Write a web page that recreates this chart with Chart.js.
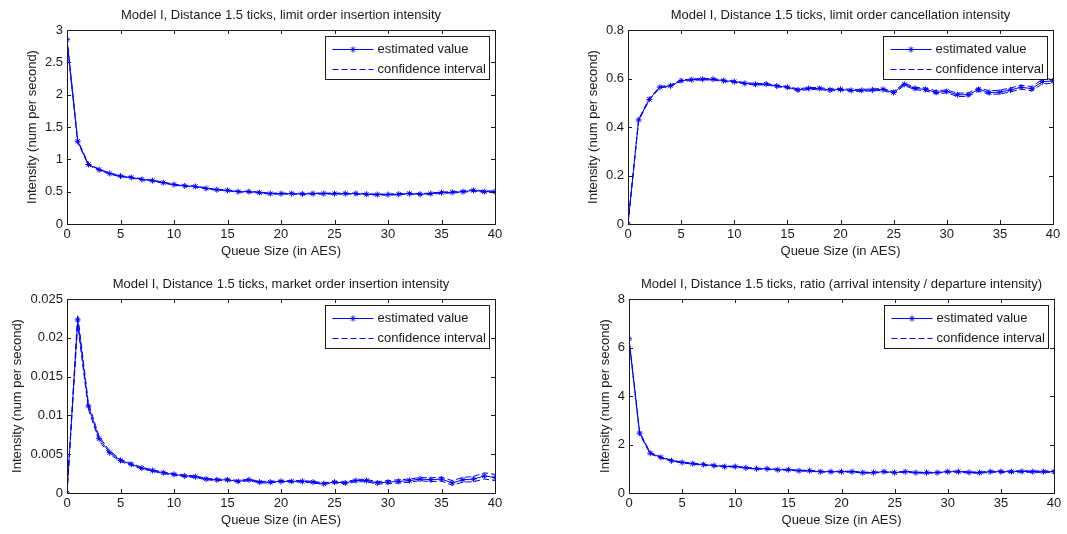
<!DOCTYPE html>
<html>
<head>
<meta charset="utf-8">
<script src="https://cdn.jsdelivr.net/npm/chart.js@4.4.1/dist/chart.umd.min.js"></script>
<style>
  html, body { margin:0; padding:0; background:#fff; }
  #wrap { position:relative; width:1067px; height:534px; overflow:hidden; }
  canvas { position:absolute; }
</style>
</head>
<body>
<div id="wrap">
  <canvas id="c0"></canvas>
  <canvas id="c1"></canvas>
  <canvas id="c2"></canvas>
  <canvas id="c3"></canvas>
</div>
<script>
// Data
const queueSize = [0,1,2,3,4,5,6,7,8,9,10,11,12,13,14,15,16,17,18,19,20,21,22,23,24,25,26,27,28,29,30,31,32,33,34,35,36,37,38,39,40];
const xTicks = [0,5,10,15,20,25,30,35,40];

const insertEst = [2.85,1.28,0.92,0.84,0.78,0.74,0.72,0.69,0.67,0.64,0.61,0.59,0.58,0.55,0.53,0.52,0.50,0.50,0.485,0.47,0.47,0.47,0.465,0.47,0.47,0.47,0.47,0.47,0.46,0.455,0.455,0.46,0.47,0.46,0.47,0.485,0.49,0.50,0.52,0.50,0.50];
const insertCi  = [0.03,0.02,0.012,0.01,0.01,0.008,0.008,0.008,0.008,0.008,0.008,0.008,0.008,0.008,0.008,0.008,0.008,0.008,0.008,0.008,0.008,0.008,0.008,0.008,0.008,0.008,0.008,0.008,0.008,0.008,0.008,0.009,0.009,0.009,0.01,0.01,0.01,0.011,0.011,0.012,0.012];
const insertTicks = [0,0.5,1,1.5,2,2.5,3];

const cancelEst = [0,0.429,0.514,0.564,0.570,0.591,0.595,0.597,0.597,0.591,0.587,0.580,0.576,0.577,0.569,0.564,0.553,0.559,0.559,0.553,0.555,0.551,0.551,0.553,0.555,0.542,0.576,0.559,0.555,0.543,0.547,0.533,0.533,0.555,0.542,0.544,0.553,0.564,0.558,0.587,0.590];
const cancelCi  = [0,0.004,0.003,0.003,0.003,0.003,0.003,0.003,0.003,0.003,0.003,0.003,0.003,0.003,0.003,0.003,0.004,0.004,0.004,0.004,0.004,0.004,0.004,0.004,0.004,0.005,0.005,0.005,0.006,0.006,0.006,0.007,0.007,0.007,0.007,0.008,0.008,0.008,0.009,0.009,0.01];
const cancelTicks = [0,0.2,0.4,0.6,0.8];

const marketEst = [0,0.0223,0.0112,0.0070,0.0052,0.0042,0.0037,0.0032,0.0029,0.0026,0.0024,0.0022,0.0021,0.0018,0.0017,0.0017,0.0015,0.0017,0.0014,0.0014,0.0015,0.0015,0.0015,0.0014,0.0012,0.0014,0.0013,0.0016,0.0016,0.0013,0.0014,0.0015,0.0016,0.0018,0.0017,0.0018,0.0013,0.0017,0.0018,0.0022,0.0020];
const marketCi  = [0,0.0007,0.0004,0.0003,0.0002,0.00015,0.00012,0.0001,0.0001,0.0001,0.0001,0.0001,0.0001,0.0001,0.0001,0.0001,0.0001,0.0001,0.0001,0.0001,0.0001,0.0001,0.0001,0.0001,0.0001,0.0001,0.00012,0.00015,0.00015,0.00015,0.0002,0.0002,0.0002,0.0002,0.00025,0.00025,0.0003,0.0003,0.00035,0.0004,0.0004];
const marketTicks = [0,0.005,0.01,0.015,0.02,0.025];

const ratioEst = [6.36,2.47,1.64,1.47,1.33,1.26,1.21,1.17,1.13,1.09,1.09,1.04,1.00,1.00,0.96,0.96,0.92,0.92,0.88,0.88,0.88,0.88,0.84,0.84,0.88,0.84,0.88,0.84,0.84,0.84,0.88,0.88,0.85,0.84,0.88,0.88,0.88,0.89,0.88,0.88,0.88];
const ratioCi  = [0.06,0.05,0.03,0.025,0.02,0.02,0.02,0.02,0.02,0.02,0.02,0.02,0.02,0.02,0.02,0.02,0.02,0.02,0.02,0.02,0.02,0.02,0.02,0.02,0.02,0.02,0.02,0.02,0.02,0.02,0.025,0.025,0.025,0.025,0.025,0.03,0.03,0.03,0.03,0.03,0.03];
const ratioTicks = [0,2,4,6,8];

const titles = [
  'Model I, Distance 1.5 ticks, limit order insertion intensity',
  'Model I, Distance 1.5 ticks, limit order cancellation intensity',
  'Model I, Distance 1.5 ticks, market order insertion intensity',
  'Model I, Distance 1.5 ticks, ratio (arrival intensity / departure intensity)'
];
const legendLabels = ['estimated value', 'confidence interval'];
const xLabel = 'Queue Size (in AES)';
const yLabel = 'Intensity (num per second)';

// Layout: canvas box + plot area in page pixels
const panels = [
  { id:'c0', x:0,   y:0,   w:533, h:267, area:[67,30,495,224],   yTitleX:32,  est:insertEst, ci:insertCi, yTicks:insertTicks, title:titles[0] },
  { id:'c1', x:533, y:0,   w:534, h:267, area:[628,30,1053,224], yTitleX:593, est:cancelEst, ci:cancelCi, yTicks:cancelTicks, title:titles[1] },
  { id:'c2', x:0,   y:267, w:533, h:267, area:[67,299,495,493],  yTitleX:17,  est:marketEst, ci:marketCi, yTicks:marketTicks, title:titles[2] },
  { id:'c3', x:533, y:267, w:534, h:267, area:[629,299,1054,493],yTitleX:605, est:ratioEst,  ci:ratioCi,  yTicks:ratioTicks,  title:titles[3] }
];

const FONT = "'Liberation Sans', Arial, sans-serif";
const BLUE = '#0000ff';
const INK = '#1a1a1a';
const fmt = v => String(+Number(v).toFixed(4));

// MATLAB-like box with inward ticks
const boxAxes = {
  id: 'boxAxes',
  afterDatasetsDraw(chart) {
    const { ctx, chartArea: a, scales: { x, y } } = chart;
    ctx.save();
    ctx.strokeStyle = INK;
    ctx.lineWidth = 1;
    ctx.strokeRect(Math.round(a.left) + 0.5, Math.round(a.top) + 0.5, Math.round(a.right - a.left), Math.round(a.bottom - a.top));
    ctx.beginPath();
    x.ticks.forEach(t => {
      const px = Math.round(x.getPixelForValue(t.value)) + 0.5;
      ctx.moveTo(px, a.bottom); ctx.lineTo(px, a.bottom - 4);
      ctx.moveTo(px, a.top);    ctx.lineTo(px, a.top + 4);
    });
    y.ticks.forEach(t => {
      const py = Math.round(y.getPixelForValue(t.value)) + 0.5;
      ctx.moveTo(a.left, py);  ctx.lineTo(a.left + 4, py);
      ctx.moveTo(a.right, py); ctx.lineTo(a.right - 4, py);
    });
    ctx.stroke();
    ctx.restore();
  }
};

// title centred over the plot area
const panelTitle = {
  id: 'panelTitle',
  afterDraw(chart, args, opts) {
    const { ctx, chartArea: a } = chart;
    ctx.save();
    ctx.fillStyle = INK;
    ctx.font = '13px ' + FONT;
    ctx.textAlign = 'center';
    ctx.textBaseline = 'middle';
    ctx.fillText(opts.text, (a.left + a.right) / 2, a.top - 14.5);
    ctx.restore();
  }
};

// legend box in the top right corner of the plot
const boxLegend = {
  id: 'boxLegend',
  afterDraw(chart) {
    const { ctx, chartArea: a } = chart;
    const w = 164, h = 43;
    const bx = Math.round(a.right - 6 - w) + 0.5, by = Math.round(a.top + 6) + 0.5;
    ctx.save();
    ctx.fillStyle = '#fff';
    ctx.fillRect(bx, by, w, h);
    ctx.strokeStyle = INK;
    ctx.lineWidth = 1;
    ctx.strokeRect(bx, by, w, h);

    const rows = [by + 13, by + 33];
    ctx.strokeStyle = BLUE;
    ctx.beginPath(); ctx.moveTo(bx + 7, rows[0]); ctx.lineTo(bx + 48, rows[0]); ctx.stroke();
    Chart.helpers.drawPoint(ctx, { pointStyle:'star', radius:3, borderWidth:1 }, bx + 27.5, rows[0]);
    ctx.setLineDash([6, 3]);
    ctx.beginPath(); ctx.moveTo(bx + 7, rows[1]); ctx.lineTo(bx + 48, rows[1]); ctx.stroke();
    ctx.setLineDash([]);

    ctx.fillStyle = INK;
    ctx.font = '13px ' + FONT;
    ctx.textAlign = 'left';
    ctx.textBaseline = 'middle';
    legendLabels.forEach((t, i) => ctx.fillText(t, bx + 52, rows[i]));
    ctx.restore();
  }
};

function makePanel(p) {
  const cv = document.getElementById(p.id);
  cv.width = p.w; cv.height = p.h;
  cv.style.left = p.x + 'px'; cv.style.top = p.y + 'px';
  cv.style.width = p.w + 'px'; cv.style.height = p.h + 'px';

  const [L, T, R, B] = p.area;
  const xH = 40;
  const padL = p.yTitleX - p.x - 7.8;
  const yW = L - p.x - padL;

  const pts = arr => queueSize.map((q, i) => ({ x: q, y: arr[i] }));
  const lower = p.est.map((v, i) => v - p.ci[i]);
  const upper = p.est.map((v, i) => v + p.ci[i]);
  const ciStyle = { borderColor: BLUE, borderWidth: 1, borderDash: [6, 3], pointRadius: 0, fill: false, tension: 0 };

  const tickFont = { family: FONT, size: 13 };
  const ymax = p.yTicks[p.yTicks.length - 1];

  return new Chart(cv.getContext('2d'), {
    type: 'line',
    data: {
      datasets: [
        { label: legendLabels[0], data: pts(p.est), borderColor: BLUE, backgroundColor: BLUE, borderWidth: 1,
          pointStyle: 'star', pointRadius: 3, pointBorderWidth: 1, fill: false, tension: 0 },
        Object.assign({ label: legendLabels[1], data: pts(upper) }, ciStyle),
        Object.assign({ label: legendLabels[1] + ' low', data: pts(lower) }, ciStyle)
      ]
    },
    options: {
      responsive: false, animation: false, devicePixelRatio: 1,
      layout: { padding: { left: padL, top: T - p.y, right: p.x + p.w - R, bottom: p.y + p.h - B - xH } },
      plugins: { legend: { display: false }, tooltip: { enabled: false }, panelTitle: { text: p.title } },
      scales: {
        x: {
          type: 'linear', min: 0, max: 40,
          afterBuildTicks: s => { s.ticks = xTicks.map(v => ({ value: v })); },
          afterFit: s => { s.height = xH; },
          grid: { display: false, drawTicks: false }, border: { display: false },
          ticks: { padding: 3, font: tickFont, color: INK, maxRotation: 0, autoSkip: false, callback: fmt },
          title: { display: true, text: xLabel, font: tickFont, color: INK, padding: { top: 0, bottom: 5.2 } }
        },
        y: {
          type: 'linear', min: 0, max: ymax,
          afterBuildTicks: s => { s.ticks = p.yTicks.map(v => ({ value: v })); },
          afterFit: s => { s.width = yW; },
          grid: { display: false, drawTicks: false }, border: { display: false },
          ticks: { padding: 4, font: tickFont, color: INK, autoSkip: false, callback: fmt },
          title: { display: true, text: yLabel, font: tickFont, color: INK, padding: { top: 0, bottom: 0 } }
        }
      }
    },
    plugins: [boxAxes, panelTitle, boxLegend]
  });
}

panels.forEach(makePanel);
</script>
</body>
</html>
